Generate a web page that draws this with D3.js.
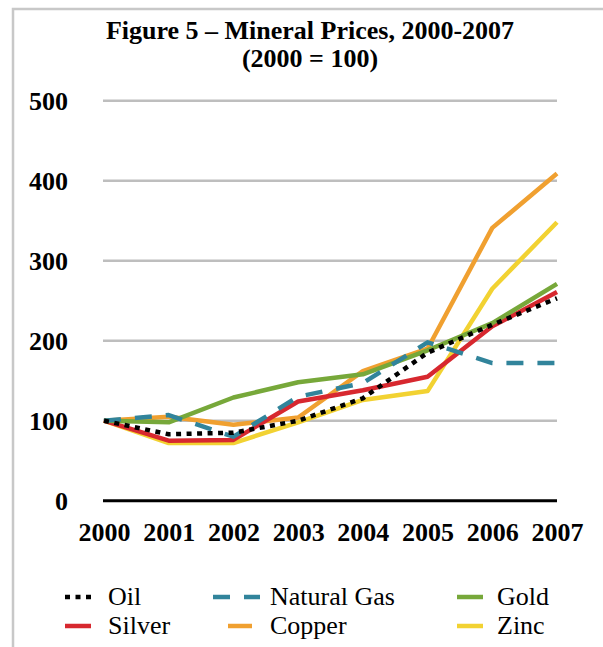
<!DOCTYPE html>
<html>
<head>
<meta charset="utf-8">
<script src="https://cdn.jsdelivr.net/npm/d3@7"></script>
<style>
  body { margin: 0; background: #fff; }
  svg { display: block; font-family: "Liberation Serif", "Times New Roman", serif; }
</style>
</head>
<body>
<div id="chart"></div>
<script>
// Dados
const years = ["2000", "2001", "2002", "2003", "2004", "2005", "2006", "2007"];
const yTicks = [0, 100, 200, 300, 400, 500];
const oil = [100, 83, 85, 100, 128, 185, 220, 253];
const naturalGas = [100, 107, 80, 130, 147, 198, 172, 172];
const gold = [100, 98, 129, 148, 158, 188, 222, 271];
const silver = [100, 75, 76, 124, 138, 155, 218, 261];
const copper = [100, 105, 95, 104, 162, 190, 341, 409];
const zinc = [100, 72, 72, 98, 126, 137, 265, 348];

const series = [
  { name: "Oil", values: oil, color: "#000000", dash: "5,5.5" },
  { name: "Natural Gas", values: naturalGas, color: "#31849B", dash: "17,14" },
  { name: "Gold", values: gold, color: "#77A83A", dash: null },
  { name: "Silver", values: silver, color: "#D7282F", dash: null },
  { name: "Copper", values: copper, color: "#F0A030", dash: null },
  { name: "Zinc", values: zinc, color: "#F2D232", dash: null }
];

const W = 603, H = 647;
const svg = d3.select("#chart").append("svg")
  .attr("width", W)
  .attr("height", H);

// moldura cinza
svg.append("rect")
  .attr("x", 13).attr("y", 9)
  .attr("width", W + 20).attr("height", H + 20)
  .attr("fill", "none")
  .attr("stroke", "#C8C8C8")
  .attr("stroke-width", 2.5);

// Título
svg.append("text")
  .attr("x", 310).attr("y", 39)
  .attr("text-anchor", "middle")
  .style("font-size", "26px").style("font-weight", "bold")
  .text("Figure 5 – Mineral Prices, 2000-2007");
svg.append("text")
  .attr("x", 310).attr("y", 67)
  .attr("text-anchor", "middle")
  .style("font-size", "26px").style("font-weight", "bold")
  .text("(2000 = 100)");

// Escalas
const x = d3.scalePoint().domain(years).range([104, 557]);
const y = d3.scaleLinear().domain([0, 500]).range([500.7, 100.7]);

// Grade
svg.append("g")
  .selectAll("line")
  .data(yTicks.filter(d => d > 0))
  .enter().append("line")
  .attr("x1", 103).attr("x2", 557)
  .attr("y1", d => y(d)).attr("y2", d => y(d))
  .attr("stroke", "#BEBEBE")
  .attr("stroke-width", 2.5);

// Eixo Y
const yAxis = d3.axisLeft(y).tickValues(yTicks).tickSize(0).tickPadding(0);
svg.append("g")
  .attr("transform", "translate(68,0)")
  .call(yAxis)
  .call(g => g.select(".domain").remove())
  .selectAll("text")
  .style("font-family", "Liberation Serif, serif")
  .style("font-size", "26px").style("font-weight", "bold")
  .attr("fill", "#000");

// Eixo X
const xAxis = d3.axisBottom(x).tickSize(0).tickPadding(0);
svg.append("g")
  .attr("transform", "translate(0,523)")
  .call(xAxis)
  .call(g => g.select(".domain").remove())
  .selectAll("text")
  .style("font-family", "Liberation Serif, serif")
  .style("font-size", "26px").style("font-weight", "bold")
  .attr("fill", "#000");

// linha do zero
svg.append("line")
  .attr("x1", 103).attr("x2", 557)
  .attr("y1", y(0)).attr("y2", y(0))
  .attr("stroke", "#000")
  .attr("stroke-width", 3);

// Linhas
const line = d3.line()
  .x((d, i) => x(years[i]))
  .y(d => y(d));

svg.append("g")
  .selectAll("path")
  .data(series.slice().reverse())
  .enter().append("path")
  .attr("d", d => line(d.values))
  .attr("fill", "none")
  .attr("stroke", d => d.color)
  .attr("stroke-width", 4.5)
  .attr("stroke-dasharray", d => d.dash)
  .attr("stroke-linejoin", "round");

// Legenda
const legendPos = [
  { sx: 65, sw: 27, tx: 108, cy: 597 },
  { sx: 213, sw: 47, tx: 270, cy: 597 },
  { sx: 457, sw: 26, tx: 497, cy: 597 },
  { sx: 65, sw: 26, tx: 108, cy: 626 },
  { sx: 228, sw: 24, tx: 270, cy: 626 },
  { sx: 457, sw: 26, tx: 497, cy: 626 }
];

const legend = svg.append("g")
  .selectAll("g")
  .data(series)
  .enter().append("g");

legend.append("line")
  .attr("x1", (d, i) => legendPos[i].sx)
  .attr("x2", (d, i) => legendPos[i].sx + legendPos[i].sw)
  .attr("y1", (d, i) => legendPos[i].cy)
  .attr("y2", (d, i) => legendPos[i].cy)
  .attr("stroke", d => d.color)
  .attr("stroke-width", 4.5)
  .attr("stroke-dasharray", d => d.dash);

legend.append("text")
  .attr("x", (d, i) => legendPos[i].tx)
  .attr("y", (d, i) => legendPos[i].cy + 8)
  .style("font-size", "26px")
  .text(d => d.name);
</script>
</body>
</html>
